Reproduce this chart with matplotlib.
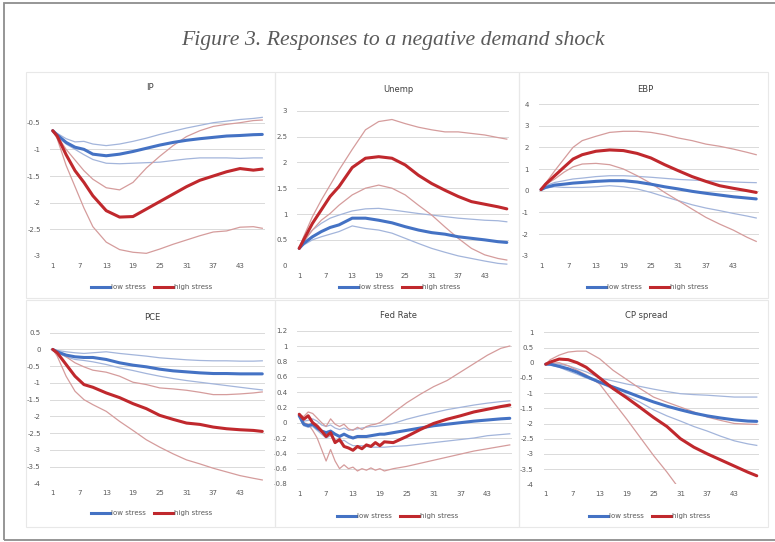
import numpy as np
import matplotlib
matplotlib.use("Agg")
import matplotlib.pyplot as plt
from matplotlib.lines import Line2D
from matplotlib.patches import Rectangle

W, H = 775, 542
NAN = np.nan

# ---- horizons (months) ----
periods = [1, 2, 4, 6, 8, 10, 13, 16, 19, 22, 25, 28, 31, 34, 37, 40, 43, 46, 48]
periods_fed = [1, 2, 3, 4, 5, 6, 7, 8, 9, 10, 11, 12, 13, 14, 15, 16, 17, 18, 19, 20,
               22, 25, 28, 31, 34, 37, 40, 43, 46, 48]
x_ticks = [1, 7, 13, 19, 25, 31, 37, 43]
series_names = ["low stress", "high stress"]

# ---- IP ----
ip_low = [-0.65, -0.73, -0.87, -0.96, -1.0, -1.09, -1.12, -1.09, -1.04, -0.98, -0.92, -0.87, -0.83, -0.8, -0.775, -0.75, -0.74, -0.725, -0.72]
ip_low_up = [-0.65, -0.7, -0.8, -0.86, -0.85, -0.9, -0.93, -0.9, -0.85, -0.79, -0.72, -0.66, -0.6, -0.55, -0.5, -0.47, -0.44, -0.42, -0.4]
ip_low_dn = [-0.65, -0.74, -0.9, -1.0, -1.1, -1.19, -1.26, -1.27, -1.26, -1.25, -1.24, -1.21, -1.18, -1.16, -1.16, -1.16, -1.17, -1.16, -1.16]
ip_high = [-0.65, -0.75, -1.1, -1.4, -1.62, -1.87, -2.15, -2.27, -2.26, -2.12, -1.98, -1.84, -1.7, -1.58, -1.5, -1.42, -1.36, -1.39, -1.37]
ip_high_up = [-0.65, -0.75, -1.0, -1.2, -1.4, -1.56, -1.72, -1.76, -1.62, -1.35, -1.13, -0.93, -0.76, -0.65, -0.57, -0.53, -0.5, -0.46, -0.45]
ip_high_dn = [-0.65, -0.8, -1.3, -1.7, -2.1, -2.45, -2.74, -2.88, -2.93, -2.95, -2.87, -2.78, -2.7, -2.62, -2.55, -2.53, -2.46, -2.45, -2.48]

# ---- Unemployment ----
un_low = [0.335, 0.43, 0.56, 0.66, 0.74, 0.79, 0.92, 0.92, 0.88, 0.83, 0.755, 0.69, 0.64, 0.61, 0.56, 0.53, 0.5, 0.465, 0.45]
un_low_up = [0.335, 0.5, 0.69, 0.82, 0.92, 0.98, 1.06, 1.1, 1.11, 1.08, 1.045, 1.01, 0.98, 0.95, 0.92, 0.9, 0.88, 0.87, 0.85]
un_low_dn = [0.335, 0.4, 0.5, 0.56, 0.61, 0.66, 0.77, 0.72, 0.69, 0.63, 0.53, 0.43, 0.335, 0.26, 0.19, 0.14, 0.09, 0.045, 0.03]
un_high = [0.335, 0.5, 0.82, 1.08, 1.34, 1.53, 1.9, 2.08, 2.11, 2.08, 1.95, 1.75, 1.59, 1.46, 1.34, 1.24, 1.19, 1.14, 1.1]
un_high_up = [0.335, 0.56, 0.95, 1.27, 1.56, 1.85, 2.25, 2.63, 2.79, 2.83, 2.75, 2.68, 2.63, 2.59, 2.59, 2.56, 2.53, 2.48, 2.45]
un_high_dn = [0.335, 0.46, 0.69, 0.88, 1.01, 1.17, 1.37, 1.5, 1.56, 1.5, 1.37, 1.17, 0.98, 0.75, 0.53, 0.335, 0.21, 0.14, 0.11]

# ---- EBP ----
eb_low = [0.05, 0.15, 0.26, 0.3, 0.35, 0.38, 0.43, 0.46, 0.46, 0.4, 0.3, 0.18, 0.08, -0.03, -0.12, -0.2, -0.28, -0.34, -0.38]
eb_low_up = [0.05, 0.23, 0.38, 0.46, 0.54, 0.58, 0.65, 0.69, 0.69, 0.66, 0.62, 0.57, 0.52, 0.49, 0.46, 0.43, 0.4, 0.38, 0.37]
eb_low_dn = [0.05, 0.12, 0.18, 0.15, 0.15, 0.15, 0.18, 0.23, 0.18, 0.08, -0.08, -0.28, -0.46, -0.65, -0.8, -0.92, -1.05, -1.17, -1.26]
eb_high = [0.05, 0.3, 0.69, 1.08, 1.46, 1.66, 1.82, 1.88, 1.85, 1.72, 1.51, 1.2, 0.92, 0.65, 0.43, 0.23, 0.11, 0.0, -0.08]
eb_high_up = [0.05, 0.34, 0.92, 1.46, 2.0, 2.31, 2.51, 2.69, 2.74, 2.74, 2.69, 2.58, 2.43, 2.31, 2.15, 2.05, 1.92, 1.77, 1.66]
eb_high_dn = [0.05, 0.28, 0.54, 0.85, 1.1, 1.23, 1.26, 1.2, 1.0, 0.69, 0.34, -0.08, -0.46, -0.85, -1.23, -1.54, -1.82, -2.15, -2.34]

# ---- PCE ----
pce_low = [0.0, -0.07, -0.17, -0.22, -0.24, -0.24, -0.3, -0.4, -0.47, -0.52, -0.59, -0.64, -0.67, -0.7, -0.72, -0.72, -0.73, -0.73, -0.73]
pce_low_up = [0.0, -0.03, -0.07, -0.1, -0.12, -0.1, -0.07, -0.12, -0.16, -0.2, -0.25, -0.28, -0.31, -0.33, -0.34, -0.34, -0.35, -0.35, -0.34]
pce_low_dn = [0.0, -0.1, -0.22, -0.3, -0.33, -0.37, -0.45, -0.55, -0.63, -0.72, -0.8, -0.87, -0.93, -0.98, -1.03, -1.08, -1.13, -1.18, -1.21]
pce_high = [0.0, -0.1, -0.45, -0.8, -1.05, -1.13, -1.3, -1.44, -1.62, -1.77, -1.97, -2.09, -2.2, -2.24, -2.32, -2.37, -2.4, -2.42, -2.45]
pce_high_up = [0.0, -0.05, -0.22, -0.4, -0.52, -0.62, -0.68, -0.8, -0.98, -1.05, -1.15, -1.18, -1.22, -1.28, -1.35, -1.35, -1.33, -1.3, -1.27]
pce_high_dn = [0.0, -0.2, -0.8, -1.25, -1.5, -1.65, -1.85, -2.15, -2.42, -2.7, -2.92, -3.12, -3.3, -3.42, -3.55, -3.66, -3.77, -3.85, -3.9]

# ---- Fed Rate ----
fed_low = [0.09, -0.02, -0.04, -0.02, -0.07, -0.11, -0.13, -0.11, -0.15, -0.18, -0.15, -0.18, -0.2, -0.18, -0.18,
           -0.18, -0.17, -0.16, -0.15, -0.15, -0.13, -0.1, -0.07, -0.04, -0.02, 0.0, 0.02, 0.035, 0.05, 0.057]
fed_low_up = [0.1, 0.02, 0.03, 0.05, 0.02, -0.03, -0.05, -0.03, -0.07, -0.09, -0.07, -0.1, -0.09, -0.08, -0.07,
              -0.06, -0.05, -0.05, -0.04, -0.03, -0.01, 0.045, 0.09, 0.13, 0.17, 0.2, 0.23, 0.255, 0.275, 0.285]
fed_low_dn = [0.08, -0.04, -0.06, -0.05, -0.1, -0.15, -0.2, -0.17, -0.22, -0.25, -0.23, -0.27, -0.3, -0.3, -0.3,
              -0.31, -0.32, -0.32, -0.32, -0.32, -0.31, -0.3, -0.28, -0.26, -0.24, -0.22, -0.2, -0.17, -0.155, -0.145]
fed_high = [0.11, 0.045, 0.09, 0.0, -0.045, -0.11, -0.18, -0.13, -0.26, -0.22, -0.31, -0.33, -0.36, -0.31, -0.34,
            -0.29, -0.31, -0.26, -0.3, -0.25, -0.26, -0.18, -0.09, -0.01, 0.045, 0.09, 0.14, 0.175, 0.21, 0.23]
fed_high_up = [0.1, 0.08, 0.14, 0.12, 0.06, 0.0, -0.05, 0.05, -0.02, -0.05, -0.02, -0.08, -0.1, -0.06, -0.09,
               -0.05, -0.03, -0.02, 0.0, 0.04, 0.13, 0.26, 0.37, 0.47, 0.55, 0.66, 0.77, 0.88, 0.97, 1.0]
fed_high_dn = [0.1, 0.0, -0.02, -0.1, -0.2, -0.35, -0.5, -0.35, -0.5, -0.6, -0.55, -0.6, -0.58, -0.63, -0.6,
               -0.62, -0.59, -0.62, -0.6, -0.63, -0.6, -0.57, -0.53, -0.49, -0.45, -0.41, -0.37, -0.34, -0.31, -0.29]

# ---- CP spread ----
cp_low = [-0.05, -0.05, -0.12, -0.2, -0.31, -0.45, -0.64, -0.8, -0.96, -1.13, -1.29, -1.43, -1.55, -1.66, -1.75, -1.82, -1.88, -1.92, -1.93]
cp_low_up = [-0.05, -0.03, -0.05, -0.1, -0.2, -0.3, -0.5, -0.6, -0.7, -0.78, -0.87, -0.95, -1.02, -1.05, -1.07, -1.1, -1.13, -1.13, -1.13]
cp_low_dn = [-0.05, -0.07, -0.15, -0.27, -0.38, -0.5, -0.66, -0.87, -1.08, -1.3, -1.55, -1.75, -1.92, -2.1, -2.25, -2.42, -2.57, -2.67, -2.72]
cp_high = [-0.05, 0.02, 0.12, 0.1, 0.0, -0.15, -0.5, -0.85, -1.15, -1.47, -1.8, -2.1, -2.5, -2.78, -3.0, -3.2, -3.4, -3.6, -3.72]
cp_high_up = [-0.05, 0.1, 0.25, 0.35, 0.38, 0.38, 0.13, -0.25, -0.55, -0.85, -1.13, -1.3, -1.46, -1.62, -1.79, -1.9, -2.0, -2.02, -2.03]
cp_high_dn = [-0.05, -0.02, 0.0, -0.1, -0.25, -0.4, -0.7, -1.28, -1.85, -2.45, -3.05, -3.6, -4.2, NAN, NAN, NAN, NAN, NAN, NAN]

# ---- y axes ----
ip_yticks = [-3, -2.5, -2, -1.5, -1, -0.5]
un_yticks = [0, 0.5, 1, 1.5, 2, 2.5, 3]
eb_yticks = [-3, -2, -1, 0, 1, 2, 3, 4]
pce_yticks = [-4, -3.5, -3, -2.5, -2, -1.5, -1, -0.5, 0, 0.5]
fed_yticks = [-0.8, -0.6, -0.4, -0.2, 0, 0.2, 0.4, 0.6, 0.8, 1, 1.2]
cp_yticks = [-4, -3.5, -3, -2.5, -2, -1.5, -1, -0.5, 0, 0.5, 1]

BLUE = "#4472C4"
RED = "#C0282D"
BLUE_BAND = "#A3B5DB"
RED_BAND = "#D59C9C"
GRID = "#DADADA"
TXT = "#595959"

fig = plt.figure(figsize=(W / 100, H / 100), dpi=100)
fig.patch.set_facecolor("white")


def fig_box(x0, x1, ytop, ybot):
    return [x0 / W, 1 - ybot / H, (x1 - x0) / W, (ybot - ytop) / H]


# outer frame
fig.add_artist(Rectangle((4 / W, 1 - 540 / H), 780 / W, 537 / H, transform=fig.transFigure,
                         fill=False, ec="#8E8E8E", lw=1.3))
fig.text(393 / W, 1 - 41 / H, "Figure 3. Responses to a negative demand shock",
         fontsize=15.7, fontstyle="italic", family="Liberation Serif", color="#5A5A5A",
         ha="center", va="center")

# chart-object outlines
for (bx0, bx1, by0, by1) in [(26, 275, 72, 298), (275, 519, 72, 298), (519, 768, 72, 298),
                             (26, 275, 300, 527), (275, 519, 300, 527), (519, 768, 300, 527)]:
    fig.add_artist(Rectangle((bx0 / W, 1 - by1 / H), (bx1 - bx0) / W, (by1 - by0) / H,
                             transform=fig.transFigure, fill=False, ec="#E8E8E8", lw=0.8))

panels = [
    # title, box(x0,x1,ytop,ybot), ylim, yticks, x, low, low_up, low_dn, high, high_up, high_dn, title_xy, legend_xy
    ("IP", (50.5, 264.5, 114.7, 256), (-3, -0.35), ip_yticks, periods,
     ip_low, ip_low_up, ip_low_dn, ip_high, ip_high_up, ip_high_dn, (150, 88), (152, 287)),
    ("Unemp", (297, 509, 110.7, 265.7), (0, 3), un_yticks, periods,
     un_low, un_low_up, un_low_dn, un_high, un_high_up, un_high_dn, (398, 89), (400, 287)),
    ("EBP", (538.7, 758.5, 104, 255.7), (-3, 4), eb_yticks, periods,
     eb_low, eb_low_up, eb_low_dn, eb_high, eb_high_up, eb_high_dn, (645, 89), (648, 287)),
    ("PCE", (50.5, 264.5, 332.7, 483.3), (-4, 0.5), pce_yticks, periods,
     pce_low, pce_low_up, pce_low_dn, pce_high, pce_high_up, pce_high_dn, (152, 317), (152, 513)),
    ("Fed Rate", (297, 512, 330.7, 484), (-0.8, 1.2), fed_yticks, periods_fed,
     fed_low, fed_low_up, fed_low_dn, fed_high, fed_high_up, fed_high_dn, (398, 315), (398, 516)),
    ("CP spread", (543.5, 759, 332.3, 484.3), (-4, 1), cp_yticks, periods,
     cp_low, cp_low_up, cp_low_dn, cp_high, cp_high_up, cp_high_dn, (646, 316), (650, 516)),
]

for (title, box, ylim, yticks, xs, lo, lo_u, lo_d, hi, hi_u, hi_d, txy, lxy) in panels:
    ax = fig.add_axes(fig_box(*box))
    ax.set_facecolor("none")
    ax.set_xlim(0.5, 48.5)
    ax.set_ylim(*ylim)
    ax.set_yticks(yticks)
    ax.set_yticklabels([f"{v:g}" for v in yticks])
    ax.set_xticks(x_ticks)
    ax.set_xticklabels([str(v) for v in x_ticks])
    ax.grid(axis="y", color=GRID, lw=0.7)
    ax.set_axisbelow(True)
    for s in ax.spines.values():
        s.set_visible(False)
    ax.tick_params(length=0, labelsize=5, labelcolor=TXT)
    ax.tick_params(axis="y", pad=7)
    ax.tick_params(axis="x", pad=5)

    ax.plot(xs, lo_u, color=BLUE_BAND, lw=0.9, zorder=2)
    ax.plot(xs, lo_d, color=BLUE_BAND, lw=0.9, zorder=2)
    ax.plot(xs, hi_u, color=RED_BAND, lw=0.9, zorder=2)
    ax.plot(xs, hi_d, color=RED_BAND, lw=0.9, zorder=2)
    ax.plot(xs, lo, color=BLUE, lw=2.2, zorder=3, solid_capstyle="round")
    ax.plot(xs, hi, color=RED, lw=2.2, zorder=4, solid_capstyle="round")

    fig.text(txy[0] / W, 1 - txy[1] / H, title, fontsize=6, color="#404040",
             ha="center", va="center")
    handles = [Line2D([], [], color=BLUE, lw=2.2), Line2D([], [], color=RED, lw=2.2)]
    fig.legend(handles, series_names, loc="center", ncol=2, frameon=False,
               bbox_to_anchor=(lxy[0] / W, 1 - lxy[1] / H), bbox_transform=fig.transFigure,
               fontsize=5, handlelength=2.6, handletextpad=0.25, columnspacing=1.2,
               labelcolor=TXT)

fig.savefig("out.png", dpi=100, facecolor="white")
